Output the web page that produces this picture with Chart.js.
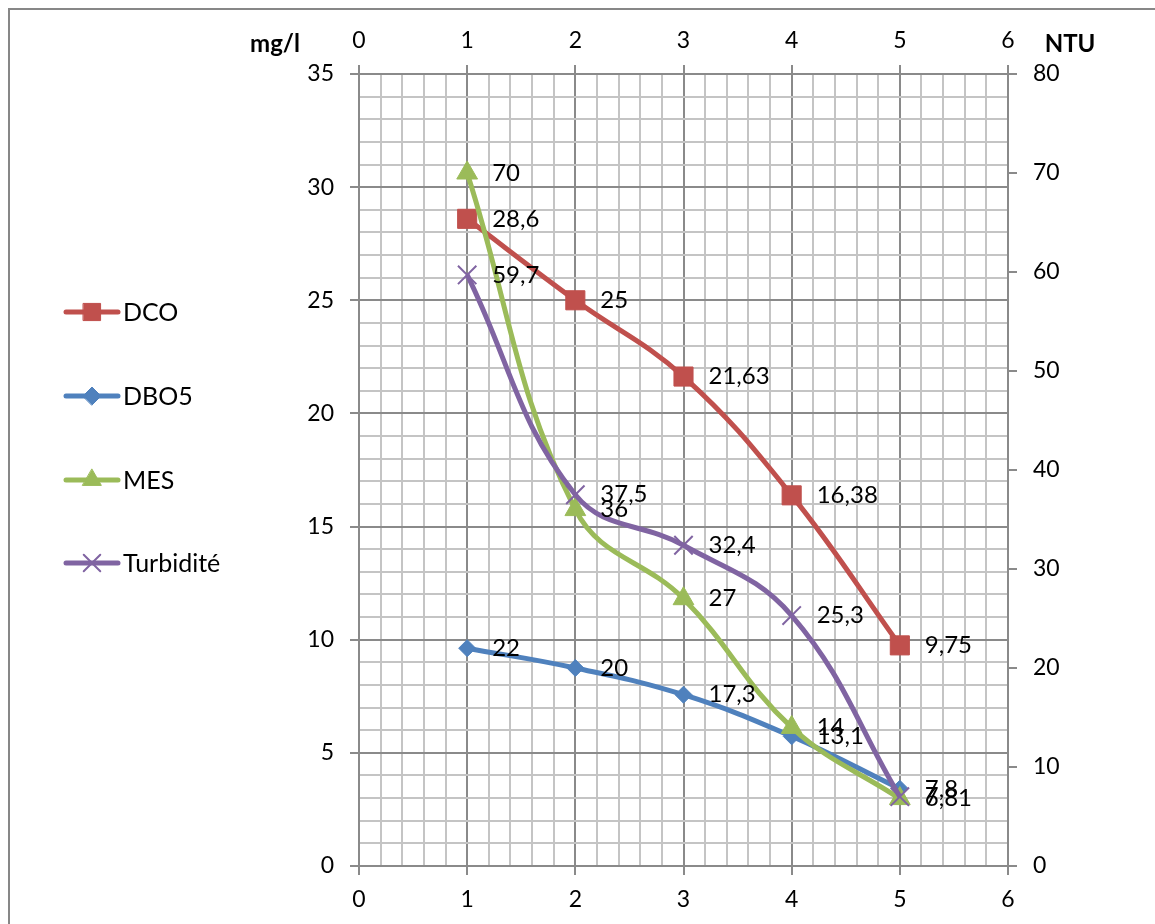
<!DOCTYPE html>
<html>
<head>
<meta charset="utf-8">
<script src="https://cdn.jsdelivr.net/npm/chart.js@4.4.1/dist/chart.umd.min.js"></script>
<style>
  html, body { margin: 0; padding: 0; background: #ffffff; }
  canvas { display: block; }
</style>
</head>
<body>
<canvas id="chart" width="1155" height="924"></canvas>
<script>
// Sampling stations on the horizontal axis
const stations = [1, 2, 3, 4, 5];

// Measured values per station
const dcoValues = [28.6, 25, 21.63, 16.38, 9.75];      // mg/l, left axis
const dbo5Values = [22, 20, 17.3, 13.1, 7.8];          // right axis
const mesValues = [70, 36, 27, 14, 6.81];              // right axis
const turbiditeValues = [59.7, 37.5, 32.4, 25.3, 7];   // NTU, right axis

const seriesNames = ['DCO', 'DBO5', 'MES', 'Turbidité'];
const leftUnit = 'mg/l';
const rightUnit = 'NTU';

const COLORS = ['#C0504D', '#4F81BD', '#9BBB59', '#8064A2'];
const MARKERS = [
  { style: 'rect', radius: 13.5, border: 1 },
  { style: 'rectRot', radius: 8.5, border: 1 },
  { style: 'triangle', radius: 12, border: 1 },
  { style: 'crossRot', radius: 13, border: 2 }
];
const MAJOR = '#8a8a8a';
const MINOR = '#c4c4c4';
const FONT = 'Lato, "Open Sans", sans-serif';

Chart.defaults.font.family = FONT;
Chart.defaults.font.size = 23;
Chart.defaults.color = '#000000';

const isWhole = v => Math.abs(v - Math.round(v)) < 1e-6;
const toPoints = vals => stations.map((x, i) => ({ x: x, y: vals[i] }));
const decimalComma = v => String(v).replace('.', ',');

function makeDataset(i, values, axis) {
  const m = MARKERS[i];
  return {
    label: seriesNames[i],
    data: toPoints(values),
    yAxisID: axis,
    borderColor: COLORS[i],
    backgroundColor: COLORS[i],
    borderWidth: 5,
    tension: 0.4,
    pointStyle: m.style,
    pointRadius: m.radius,
    pointHoverRadius: m.radius,
    pointBorderWidth: m.border,
    pointBorderColor: COLORS[i],
    pointBackgroundColor: COLORS[i],
    order: 4 - i
  };
}

// Value labels to the right of each marker
const valueLabels = {
  id: 'valueLabels',
  afterDatasetsDraw(chart) {
    const ctx = chart.ctx;
    ctx.save();
    ctx.font = '24px ' + FONT;
    ctx.fillStyle = '#000000';
    ctx.textAlign = 'left';
    ctx.textBaseline = 'middle';
    chart.data.datasets.forEach((ds, di) => {
      const meta = chart.getDatasetMeta(di);
      meta.data.forEach((pt, pi) => {
        ctx.fillText(decimalComma(ds.data[pi].y), pt.x + 25, pt.y);
      });
    });
    ctx.restore();
  }
};

// Series key on the left, unit captions and outer frame
const sideDecor = {
  id: 'sideDecor',
  afterDraw(chart) {
    const ctx = chart.ctx;
    ctx.save();
    // outer frame
    ctx.strokeStyle = '#878787';
    ctx.lineWidth = 2;
    ctx.strokeRect(9, 9, 1300, 1100);

    // unit captions
    ctx.font = 'bold 24px ' + FONT;
    ctx.textAlign = 'center';
    ctx.textBaseline = 'middle';
    ctx.fillStyle = '#000000';
    ctx.fillText(leftUnit, 275, 44);
    ctx.fillText(rightUnit, 1070, 44);

    // legend
    const rows = [312, 396, 480, 563];
    seriesNames.forEach((name, i) => {
      const y = rows[i];
      ctx.strokeStyle = COLORS[i];
      ctx.lineWidth = 5;
      ctx.lineCap = 'round';
      ctx.beginPath();
      ctx.moveTo(66, y);
      ctx.lineTo(118, y);
      ctx.stroke();
      ctx.fillStyle = COLORS[i];
      ctx.strokeStyle = COLORS[i];
      ctx.lineWidth = MARKERS[i].border;
      Chart.helpers.drawPoint(ctx, {
        pointStyle: MARKERS[i].style,
        radius: MARKERS[i].style === 'rectRot' ? 9 : MARKERS[i].radius * 0.9,
        rotation: 0,
        borderWidth: MARKERS[i].border
      }, 92, y);
      ctx.fillStyle = '#000000';
      ctx.font = '25px ' + FONT;
      ctx.textAlign = 'left';
      ctx.fillText(name, 123, y + 1);
    });
    ctx.restore();
  }
};

const gridColor = step => ctx => (ctx.tick && isWhole(ctx.tick.value / step)) ? MAJOR : MINOR;
const tickColor = step => ctx => (ctx.tick && isWhole(ctx.tick.value / step)) ? MAJOR : 'rgba(0,0,0,0)';

new Chart(document.getElementById('chart'), {
  type: 'line',
  data: {
    datasets: [
      makeDataset(0, dcoValues, 'y'),
      makeDataset(1, dbo5Values, 'y2'),
      makeDataset(2, mesValues, 'y2'),
      makeDataset(3, turbiditeValues, 'y2')
    ]
  },
  options: {
    responsive: false,
    animation: false,
    layout: { padding: 0 },
    plugins: {
      legend: { display: false },
      tooltip: { enabled: false }
    },
    scales: {
      x: {
        type: 'linear', position: 'bottom', min: 0, max: 6,
        ticks: {
          stepSize: 0.2, autoSkip: false, maxRotation: 0, padding: 11,
          callback: v => isWhole(v) ? String(Math.round(v)) : ''
        },
        grid: { color: gridColor(1), tickColor: tickColor(1), lineWidth: 2, tickLength: 9 },
        border: { color: MAJOR, width: 2 },
        afterFit: s => { s.height = 58; }
      },
      x2: {
        type: 'linear', position: 'top', min: 0, max: 6,
        ticks: { stepSize: 1, maxRotation: 0, padding: 11 },
        grid: { drawOnChartArea: false, color: MAJOR, lineWidth: 2, tickLength: 9 },
        border: { color: MAJOR, width: 2 },
        afterFit: s => { s.height = 74; }
      },
      y: {
        type: 'linear', position: 'left', min: 0, max: 35,
        ticks: {
          stepSize: 1, autoSkip: false, padding: 16,
          callback: v => isWhole(v / 5) ? String(Math.round(v)) : ''
        },
        grid: { color: gridColor(5), tickColor: tickColor(5), lineWidth: 2, tickLength: 9 },
        border: { color: MAJOR, width: 2 },
        afterFit: s => { s.width = 359; }
      },
      y2: {
        type: 'linear', position: 'right', min: 0, max: 80,
        ticks: { stepSize: 10, autoSkip: false, padding: 16 },
        grid: { drawOnChartArea: false, color: MAJOR, lineWidth: 2, tickLength: 9 },
        border: { color: MAJOR, width: 2 },
        afterFit: s => { s.width = 147; }
      }
    }
  },
  plugins: [valueLabels, sideDecor]
});
</script>
</body>
</html>
